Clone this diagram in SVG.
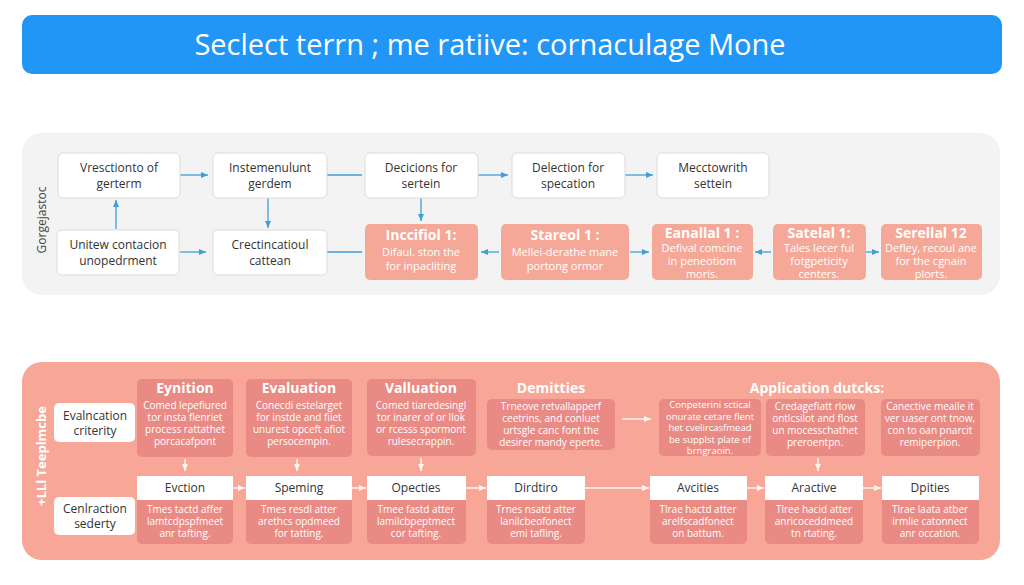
<svg xmlns="http://www.w3.org/2000/svg" width="1024" height="585" viewBox="0 0 1024 585">
<defs>
<marker id="ab" markerWidth="8" markerHeight="8" refX="7" refY="4" orient="auto" markerUnits="userSpaceOnUse"><path d="M0,1 L7,4 L0,7 Z" fill="#3f9fd8"/></marker>
<marker id="aw" markerWidth="8" markerHeight="8" refX="7" refY="4" orient="auto" markerUnits="userSpaceOnUse"><path d="M0,1 L7,4 L0,7 Z" fill="#fff4f0"/></marker>
<style>
text{font-family:"Open Sans","Noto Sans","Liberation Sans",sans-serif;text-anchor:middle}
.t{font-size:29px;fill:#fff;font-weight:500}
.n{fill:#fff;stroke:#e2d9d6;stroke-width:1}
.nt{font-size:12px;fill:#333}
.s{fill:#f6a898}
.st{font-size:14px;font-weight:700;fill:#fff}
.sb{font-size:11px;fill:#fff}
.d{fill:#e47f7d;opacity:0.7}
.dt{font-size:14px;font-weight:700;fill:#fff}
.db{font-size:10px;fill:#fff}
.dbs{font-size:9.5px;fill:#fff}
.h{fill:#fff}
.ht{font-size:12px;fill:#333}
.cb{stroke:#3f9fd8;stroke-width:1.3;fill:none}
.cw{stroke:#fff4f0;stroke-width:1.5;fill:none}
.lab{font-size:12px;fill:#444}
.labw{font-size:13px;fill:#fff;font-weight:700}
</style>
</defs>
<rect width="1024" height="585" fill="#ffffff"/>
<g id="title"><rect x="22" y="15" width="980" height="59" rx="10" fill="#2196f6"/><text class="t" x="490" y="55">Seclect terrn ; me ratiive: cornaculage Mone</text></g>
<g id="panel-top"><rect x="22" y="133" width="978" height="162" rx="20" fill="#f3f3f3"/><text class="lab" transform="translate(46,220) rotate(-90)">Gorgejastoc</text></g>
<g id="panel-bottom"><rect x="22" y="362" width="978" height="198" rx="20" fill="#f7a697"/><text class="labw" transform="translate(46,456) rotate(-90)">+LLl Teeplmcbe</text></g>
<g id="connectors">
<line class="cb" x1="180" y1="175" x2="208" y2="175" marker-end="url(#ab)"/>
<line class="cb" x1="327" y1="175" x2="362" y2="175"/>
<line class="cb" x1="478" y1="175" x2="508" y2="175" marker-end="url(#ab)"/>
<line class="cb" x1="625" y1="175" x2="653" y2="175" marker-end="url(#ab)"/>
<line class="cb" x1="116" y1="229" x2="116" y2="200" marker-end="url(#ab)"/>
<line class="cb" x1="268" y1="198" x2="268" y2="228" marker-end="url(#ab)"/>
<line class="cb" x1="180" y1="252" x2="206" y2="252" marker-end="url(#ab)"/>
<line class="cb" x1="327" y1="252" x2="362" y2="252"/>
<line class="cb" x1="421" y1="198" x2="421" y2="221" marker-end="url(#ab)"/>
<line class="cb" x1="499" y1="252" x2="481" y2="252" marker-end="url(#ab)"/>
<line class="cb" x1="630" y1="252" x2="649" y2="252" marker-end="url(#ab)"/>
<line class="cb" x1="771" y1="252" x2="755" y2="252" marker-end="url(#ab)"/>
<line class="cb" x1="866" y1="252" x2="879" y2="252" marker-end="url(#ab)"/>
<line class="cw" x1="185" y1="459" x2="185" y2="471" marker-end="url(#aw)"/>
<line class="cw" x1="297" y1="459" x2="297" y2="471" marker-end="url(#aw)"/>
<line class="cw" x1="421" y1="458" x2="421" y2="471" marker-end="url(#aw)"/>
<line class="cw" x1="818" y1="458" x2="818" y2="471" marker-end="url(#aw)"/>
<line class="cw" x1="622" y1="419" x2="651" y2="419" marker-end="url(#aw)"/>
<line class="cw" x1="233" y1="488" x2="245" y2="488" marker-end="url(#aw)"/>
<line class="cw" x1="352" y1="488" x2="366" y2="488" marker-end="url(#aw)"/>
<line class="cw" x1="466" y1="488" x2="486" y2="488" marker-end="url(#aw)"/>
<line class="cw" x1="585" y1="488" x2="649" y2="488" marker-end="url(#aw)"/>
<line class="cw" x1="747" y1="488" x2="764" y2="488" marker-end="url(#aw)"/>
<line class="cw" x1="863" y1="488" x2="881" y2="488" marker-end="url(#aw)"/>
</g>
<g id="n1"><rect class="n" x="58" y="153" width="122" height="45" rx="5"/><text class="nt" x="119" y="172">Vresctionto of<tspan x="119" dy="16">gerterm</tspan></text></g>
<g id="n2"><rect class="n" x="213" y="153" width="114" height="45" rx="5"/><text class="nt" x="270" y="172">Instemenulunt<tspan x="270" dy="16">gerdem</tspan></text></g>
<g id="n3"><rect class="n" x="365" y="153" width="113" height="45" rx="5"/><text class="nt" x="421" y="172">Decicions for<tspan x="421" dy="16">sertein</tspan></text></g>
<g id="n4"><rect class="n" x="512" y="153" width="113" height="45" rx="5"/><text class="nt" x="568" y="172">Delection for<tspan x="568" dy="16">specation</tspan></text></g>
<g id="n5"><rect class="n" x="657" y="153" width="112" height="45" rx="5"/><text class="nt" x="713" y="172">Mecctowrith<tspan x="713" dy="16">settein</tspan></text></g>
<g id="n6"><rect class="n" x="57" y="230" width="122" height="45" rx="5"/><text class="nt" x="118" y="249">Unitew contacion<tspan x="118" dy="16">unopedrment</tspan></text></g>
<g id="n7"><rect class="n" x="213" y="230" width="114" height="45" rx="5"/><text class="nt" x="270" y="249">Crectincatioul<tspan x="270" dy="16">cattean</tspan></text></g>
<g id="s1"><rect class="s" x="365" y="224" width="113" height="56" rx="5"/><text class="st" x="421" y="240">Inccifiol 1:</text><text class="sb" x="421" y="256">Difaul. ston the<tspan x="421" dy="14">for inpacliting</tspan></text></g>
<g id="s2"><rect class="s" x="501" y="224" width="128" height="56" rx="5"/><text class="st" x="565" y="240">Stareol 1 :</text><text class="sb" x="565" y="256">Mellei-derathe mane<tspan x="565" dy="14">portong ormor</tspan></text></g>
<g id="s3"><rect class="s" x="652" y="224" width="101" height="56" rx="5"/><text class="st" x="702" y="238">Eanallal 1 :</text><text class="sb" x="702" y="252">Defival comcine<tspan x="702" dy="13">in peneotiom</tspan><tspan x="702" dy="13">moris.</tspan></text></g>
<g id="s4"><rect class="s" x="773" y="224" width="93" height="56" rx="5"/><text class="st" x="819" y="238">Satelal 1:</text><text class="sb" x="819" y="252">Tales lecer ful<tspan x="819" dy="13">fotgpeticity</tspan><tspan x="819" dy="13">centers.</tspan></text></g>
<g id="s5"><rect class="s" x="881" y="224" width="101" height="56" rx="5"/><text class="st" x="931" y="238">Serellal 12</text><text class="sb" x="931" y="252">Defley, recoul ane<tspan x="931" dy="13">for the cgnain</tspan><tspan x="931" dy="13">plorts.</tspan></text></g>
<g id="b1"><rect class="h" x="54" y="403" width="81" height="39" rx="5"/><text class="ht" x="95" y="420">Evalncation<tspan x="95" dy="15">criterity</tspan></text></g>
<g id="b2"><rect class="h" x="54" y="497" width="81" height="38" rx="5"/><text class="ht" x="95" y="513">Cenlraction<tspan x="95" dy="15">sederty</tspan></text></g>
<g id="d1"><rect class="d" x="137" y="379" width="96" height="78" rx="5"/><text class="dt" x="185" y="393">Eynition</text><text class="db" x="185" y="409">Comed lepefiured<tspan x="185" dy="12">tor insta flenriet</tspan><tspan x="185" dy="12">process rattathet</tspan><tspan x="185" dy="12">porcacafpont</tspan></text></g>
<g id="d2"><rect class="d" x="246" y="379" width="106" height="78" rx="5"/><text class="dt" x="299" y="393">Evaluation</text><text class="db" x="299" y="409">Conecdi estelarget<tspan x="299" dy="12">for instde and fiiet</tspan><tspan x="299" dy="12">unurest opceft afiot</tspan><tspan x="299" dy="12">persocempin.</tspan></text></g>
<g id="d3"><rect class="d" x="367" y="379" width="109" height="77" rx="5"/><text class="dt" x="421" y="393">Valluation</text><text class="db" x="421" y="409">Comed tiaredesingl<tspan x="421" dy="12">tor inarer of or llok</tspan><tspan x="421" dy="12">or rcesss spormont</tspan><tspan x="421" dy="12">rulesecrappin.</tspan></text></g>
<g id="d4"><text class="dt" x="551" y="393">Demitties</text><rect class="d" x="487" y="399" width="128" height="51" rx="5"/><text class="db" x="551" y="410">Trneove retvallapperf<tspan x="551" dy="12">ceetrins, and conluet</tspan><tspan x="551" dy="12">urtsgle canc font the</tspan><tspan x="551" dy="12">desirer mandy eperte.</tspan></text></g>
<g id="d5"><text class="dt" x="817" y="393">Application dutcks:</text><rect class="d" x="659" y="399" width="102" height="57" rx="5"/><text class="dbs" x="710" y="408">Conpeterini sctical<tspan x="710" dy="11.5">onurate cetare flent</tspan><tspan x="710" dy="11.5">het cvelircasfmead</tspan><tspan x="710" dy="11.5">be supplst plate of</tspan><tspan x="710" dy="11.5">brngraoin.</tspan></text></g>
<g id="d6"><rect class="d" x="766" y="399" width="99" height="57" rx="5"/><text class="db" x="815" y="410">Credagefiatt rlow<tspan x="815" dy="12">ontlcsilot and flost</tspan><tspan x="815" dy="12">un mocesschathet</tspan><tspan x="815" dy="12">preroentpn.</tspan></text></g>
<g id="d7"><rect class="d" x="881" y="399" width="99" height="57" rx="5" opacity="0.3"/><text class="db" x="930" y="410">Canective meaile it<tspan x="930" dy="12">ver uaser ont tnow,</tspan><tspan x="930" dy="12">con to oan pnarcit</tspan><tspan x="930" dy="12">remiperpion.</tspan></text></g>
<g id="e1"><rect class="d" x="137" y="476" width="96" height="68" rx="5"/><rect class="h" x="137" y="476" width="96" height="24"/><text class="ht" x="185" y="492">Evction</text><text class="db" x="185" y="513">Tmes tactd affer<tspan x="185" dy="12">lamtcdpspfmeet</tspan><tspan x="185" dy="12">anr tafting.</tspan></text></g>
<g id="e2"><rect class="d" x="246" y="476" width="106" height="68" rx="5"/><rect class="h" x="246" y="476" width="106" height="24"/><text class="ht" x="299" y="492">Speming</text><text class="db" x="299" y="513">Tmes resdl atter<tspan x="299" dy="12">arethcs opdmeed</tspan><tspan x="299" dy="12">for tatting.</tspan></text></g>
<g id="e3"><rect class="d" x="367" y="476" width="99" height="68" rx="5"/><rect class="h" x="367" y="476" width="99" height="24"/><text class="ht" x="416" y="492">Opecties</text><text class="db" x="416" y="513">Tmee fastd atter<tspan x="416" dy="12">lamilcbpeptmect</tspan><tspan x="416" dy="12">cor tafting.</tspan></text></g>
<g id="e4"><rect class="d" x="487" y="476" width="98" height="68" rx="5"/><rect class="h" x="487" y="476" width="98" height="24"/><text class="ht" x="536" y="492">Dirdtiro</text><text class="db" x="536" y="513">Trnes nsatd atter<tspan x="536" dy="12">lanilcbeofonect</tspan><tspan x="536" dy="12">emi tafling.</tspan></text></g>
<g id="e5"><rect class="d" x="650" y="476" width="97" height="68" rx="5"/><rect class="h" x="650" y="476" width="97" height="24"/><text class="ht" x="698" y="492">Avcities</text><text class="db" x="698" y="513">Tlrae hactd atter<tspan x="698" dy="12">arelfscadfonect</tspan><tspan x="698" dy="12">on battum.</tspan></text></g>
<g id="e6"><rect class="d" x="765" y="476" width="98" height="68" rx="5"/><rect class="h" x="765" y="476" width="98" height="24"/><text class="ht" x="814" y="492">Aractive</text><text class="db" x="814" y="513">Tlree hacid atter<tspan x="814" dy="12">anricoceddmeed</tspan><tspan x="814" dy="12">tn rtating.</tspan></text></g>
<g id="e7"><rect class="d" x="882" y="476" width="97" height="68" rx="5"/><rect class="h" x="882" y="476" width="97" height="24"/><text class="ht" x="930" y="492">Dpities</text><text class="db" x="930" y="513">Tlrae laata atber<tspan x="930" dy="12">irmlie catonnect</tspan><tspan x="930" dy="12">anr occation.</tspan></text></g>
</svg>
